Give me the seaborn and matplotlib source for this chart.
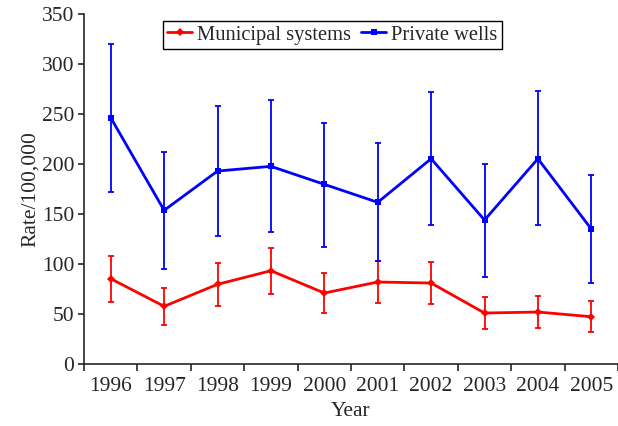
import numpy as np
import pandas as pd
import matplotlib
matplotlib.use('Agg')
import matplotlib.pyplot as plt
import seaborn as sns

# Dados
anos = ['1996', '1997', '1998', '1999', '2000', '2001', '2002', '2003', '2004', '2005']

municipal = [85.3, 57.7, 79.7, 93.3, 71.0, 82.0, 81.0, 51.0, 52.0, 47.3]
municipal_sup = [108.0, 76.3, 101.0, 116.0, 91.3, 102.7, 102.3, 67.3, 68.3, 62.7]
municipal_inf = [62.3, 39.0, 58.0, 70.0, 51.0, 60.7, 60.0, 34.7, 36.0, 32.0]

pocos = [246.3, 153.7, 193.0, 197.7, 179.7, 161.7, 205.3, 144.0, 205.3, 135.0]
pocos_sup = [319.7, 212.0, 258.0, 263.7, 241.3, 220.7, 271.7, 200.3, 273.3, 189.3]
pocos_inf = [172.0, 95.3, 128.0, 132.0, 117.0, 102.7, 139.0, 87.0, 138.7, 81.0]

sns.set_style('ticks')
plt.rcParams['font.family'] = ['Liberation Serif', 'DejaVu Serif']
plt.rcParams['font.size'] = 15.5

pos = np.arange(len(anos))
df = pd.DataFrame({
    'pos': np.concatenate([pos, pos]),
    'rate': municipal + pocos,
    'serie': ['Municipal systems'] * len(anos) + ['Private wells'] * len(anos),
})

fig = plt.figure(figsize=(6.18, 4.26), dpi=100)
ax = fig.add_axes([0.136, 0.1455, 0.864, 0.8215])

cores = {'Municipal systems': 'red', 'Private wells': 'blue'}
sns.lineplot(data=df, x='pos', y='rate', hue='serie', style='serie',
             palette=cores, markers={'Municipal systems': 'D', 'Private wells': 's'},
             dashes=False, markersize=4, markeredgewidth=0, linewidth=2, ax=ax)

# Barras de erro (assimétricas)
for med, sup, inf, cor in [(municipal, municipal_sup, municipal_inf, 'red'),
                           (pocos, pocos_sup, pocos_inf, 'blue')]:
    med = np.array(med)
    yerr = [med - np.array(inf), np.array(sup) - med]
    ax.errorbar(pos, med, yerr=yerr, fmt='none', ecolor=cor, elinewidth=1.3,
                capsize=2.5, capthick=1.3)

ax.set_xlim(-0.5, 9.426)
ax.set_ylim(0, 350)
ax.set_yticks(np.arange(0, 351, 50))
ax.set_xticks(np.arange(-0.5, 9.6, 1))
ax.set_xticklabels([])
ax.set_xticks(pos, minor=True)
ax.set_xticklabels(anos, minor=True)
ax.tick_params(axis='x', which='minor', length=0, pad=9)
ax.tick_params(axis='x', which='major', length=5, width=1.2, direction='out')
ax.tick_params(axis='y', length=4, width=1.2, direction='out', pad=3)
for s in ['left', 'bottom']:
    ax.spines[s].set_linewidth(1.2)
sns.despine(ax=ax)

ax.set_xlabel('Year', labelpad=5)
ax.set_ylabel('Rate/100,000', labelpad=1)

leg = ax.legend(ncol=2, loc='upper center', bbox_to_anchor=(0.465, 0.98),
                frameon=True, fancybox=False, edgecolor='black', framealpha=1,
                fontsize=14.8, handlelength=1.2, handletextpad=0.25,
                columnspacing=0.5, borderpad=0.2, borderaxespad=0)
leg.get_frame().set_linewidth(1.0)

fig.savefig('out.png', dpi=100)
